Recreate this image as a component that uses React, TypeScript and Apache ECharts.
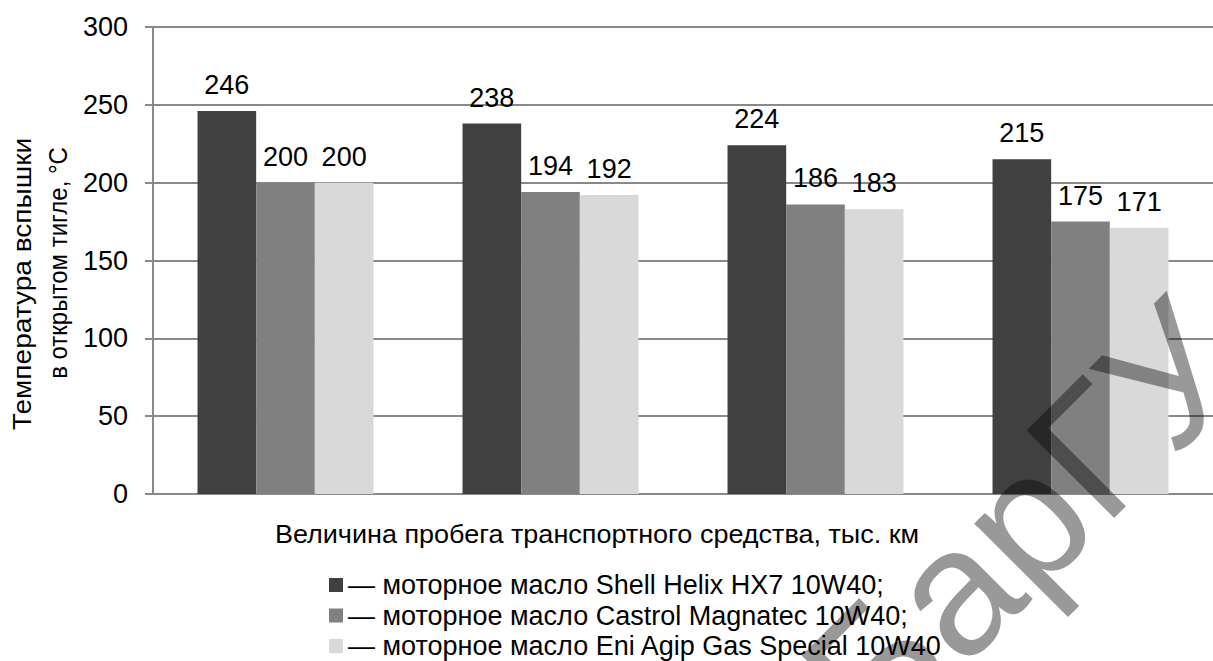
import React, { useEffect, useRef } from "react";
import * as echarts from "echarts";

const categories = ["1", "2", "3", "4"];
const seriesNames = [
  "— моторное масло Shell Helix HX7 10W40;",
  "— моторное масло Castrol Magnatec 10W40;",
  "— моторное масло Eni Agip Gas Special 10W40",
];
const shellValues = [246, 238, 224, 215];
const castrolValues = [200, 194, 186, 175];
const eniValues = [200, 192, 183, 171];
const barColors = ["#404040", "#808080", "#d9d9d9"];
const yTitleLines = ["Температура вспышки", "в открытом тигле, °С"];
const xTitle = "Величина пробега транспортного средства, тыс. км";
const watermark = "БарГУ";

const FONT = "'Liberation Sans', Arial, sans-serif";

export default function App() {
  const ref = useRef<HTMLDivElement>(null);
  useEffect(() => {
    if (!ref.current) return;
    const chart = echarts.init(ref.current, null, { renderer: "svg" });
    const values = [shellValues, castrolValues, eniValues];
    chart.setOption({
      animation: false,
      backgroundColor: "#ffffff",
      textStyle: { fontFamily: FONT },
      grid: { left: 153, top: 27, right: -12, bottom: 167, containLabel: false },
      legend: {
        orient: "vertical",
        left: 329,
        top: 570,
        height: 100,
        padding: 0,
        itemWidth: 14,
        itemHeight: 14,
        itemGap: 0.5,
        icon: "rect",
        selectedMode: false,
        textStyle: { fontSize: 27, lineHeight: 30, color: "#000", fontFamily: FONT },
        data: seriesNames,
      },
      xAxis: {
        type: "category",
        data: categories,
        axisLine: { show: true, lineStyle: { color: "#898989", width: 2 } },
        axisTick: { show: false },
        axisLabel: { show: false },
        splitLine: { show: false },
      },
      yAxis: {
        type: "value",
        min: 0,
        max: 300,
        interval: 50,
        axisLine: { show: true, lineStyle: { color: "#898989", width: 2 } },
        axisTick: { show: true, length: 8, lineStyle: { color: "#898989", width: 2 } },
        axisLabel: { margin: 25, fontSize: 27, color: "#000", fontFamily: FONT },
        splitLine: { show: true, lineStyle: { color: "#898989", width: 2 } },
      },
      series: seriesNames.map((name, i) => ({
        name,
        type: "bar",
        data: values[i],
        barGap: "0%",
        barCategoryGap: "33.6%",
        itemStyle: { color: barColors[i] },
        label: {
          show: true,
          position: "top",
          distance: 12.5,
          fontSize: 27,
          color: "#000",
          fontFamily: FONT,
        },
      })),
      graphic: [
        {
          type: "text",
          x: 597,
          y: 534,
          scaleY: 0.95,
          style: {
            text: xTitle,
            fontSize: 27,
            fontFamily: FONT,
            fill: "#000",
            textAlign: "center",
            textVerticalAlign: "middle",
          },
        },
        {
          type: "text",
          x: 23,
          y: 284,
          rotation: Math.PI / 2,
          scaleX: 1.123,
          style: {
            text: yTitleLines[0],
            fontSize: 25,
            fontFamily: FONT,
            fill: "#000",
            textAlign: "center",
            textVerticalAlign: "middle",
          },
        },
        {
          type: "text",
          x: 58,
          y: 263,
          rotation: Math.PI / 2,
          scaleX: 0.96,
          style: {
            text: yTitleLines[1],
            fontSize: 25,
            fontFamily: FONT,
            fill: "#000",
            textAlign: "center",
            textVerticalAlign: "middle",
          },
        },
        {
          type: "text",
          x: 1022,
          y: 522,
          rotation: Math.PI / 4,
          z: 100,
          style: {
            text: watermark,
            fontSize: 180,
            fontFamily: FONT,
            fill: "rgba(0,0,0,0.4)",
            textAlign: "center",
            textVerticalAlign: "middle",
          },
        },
      ],
    });
    return () => chart.dispose();
  }, []);
  return (
    <div
      ref={ref}
      style={{ position: "absolute", left: 0, top: 0, width: 1213, height: 661 }}
    />
  );
}
